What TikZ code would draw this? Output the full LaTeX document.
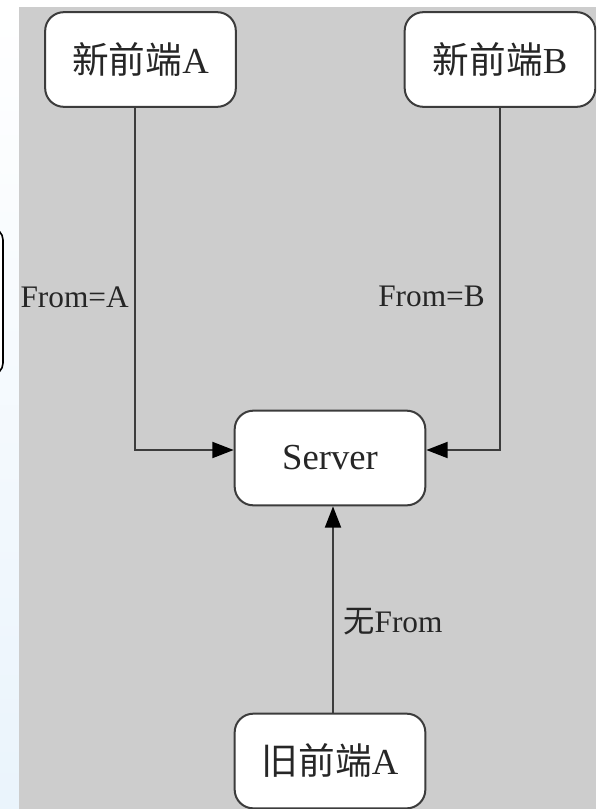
\documentclass[tikz,border=0pt]{standalone}
\usepackage{fontspec}
\setmainfont{Liberation Serif}
\newfontfamily\cjk{Noto Sans CJK SC}
\usetikzlibrary{arrows.meta}
\definecolor{bggray}{RGB}{205,205,205}
\definecolor{edge}{RGB}{60,60,60}
\definecolor{paleblue}{RGB}{234,244,252}
\tikzset{
  box/.style={draw=edge, line width=1.5pt, fill=white, rounded corners=14pt,
    minimum width=143pt, minimum height=71pt, inner sep=0pt,
    font=\fontsize{27.5}{30}\selectfont, text=black!85},
  conn/.style={draw=edge, line width=1.5pt, -{Triangle[length=16pt,width=12pt,color=black]}},
  lbl/.style={font=\fontsize{23.5}{26}\selectfont, text=black!85, inner sep=0pt}
}
\begin{document}
\begin{tikzpicture}[x=0.75pt,y=-0.75pt]
\useasboundingbox (0,0) rectangle (596,809);
\clip (0,0) rectangle (596,809);
% left strip gradient and top white band
\shade[top color=white, bottom color=paleblue] (0,0) rectangle (19,809);
\fill[bggray] (19,7) rectangle (596,809);
% partial box on the far left
\draw[black, line width=1.2pt, fill=white, rounded corners=9pt] (-80,228) rectangle (3,375);
% nodes
\node[box] (na) at (140.5,59.5) {{\cjk 新前端}A};
\node[box] (nb) at (500,59.5) {{\cjk 新前端}B};
\node[box] (srv) at (330,458) {Server};
\node[box] (old) at (330,761) {{\cjk 旧前端}A};
% connector coordinates
\coordinate (ta) at (135,107);
\coordinate (ja) at (135,450);
\coordinate (ea) at (srv.west |- ja);
\coordinate (jb) at (500,450);
\coordinate (eb) at (srv.east |- jb);
\coordinate (so) at (333,506);
\coordinate (to) at (333,713);
% connectors
\draw[conn] (na.south -| ta) -- (ja) -- (ea);
\draw[conn] (nb.south) -- (jb) -- (eb);
\draw[conn] (old.north -| to) -- (srv.south -| so);
% labels
\node[lbl, anchor=east] (la) at (129,297) {From=A};
\node[lbl, anchor=east] (lb) at (485,296) {From=B};
\node[lbl, anchor=west] (lo) at (343,622) {{\cjk 无}From};
\end{tikzpicture}
\end{document}
